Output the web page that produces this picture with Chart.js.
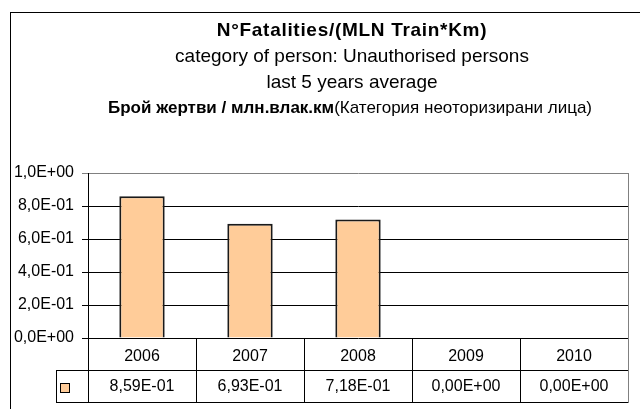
<!DOCTYPE html>
<html><head><meta charset="utf-8">
<script src="https://cdn.jsdelivr.net/npm/chart.js@4/dist/chart.umd.min.js"></script>
<style>html,body{margin:0;padding:0;background:#fff;}#wrap{width:640px;height:409px;position:relative}</style>
</head><body><div id="wrap"><canvas id="c" width="640" height="409"></canvas></div>
<script>
const categories = ['2006', '2007', '2008', '2009', '2010'];
const values = [0.859, 0.693, 0.718, 0, 0];
const yTicks = [0, 0.2, 0.4, 0.6, 0.8, 1.0];
const titleLine1 = 'N°Fatalities/(MLN Train*Km)';
const titleLine2 = 'category of person: Unauthorised persons';
const titleLine3 = 'last 5 years average';
const titleLine4Bold = 'Брой жертви / млн.влак.км';
const titleLine4Normal = '(Категория неоторизирани лица)';

const FONT = '"Liberation Sans", Arial, sans-serif';

function expFmt(v, d) {
  if (Math.abs(v) < 1e-12) return '0,' + '0'.repeat(d) + 'E+00';
  const s = v.toExponential(d);
  const [m, e] = s.split('e');
  const en = parseInt(e, 10);
  const es = (en < 0 ? '-' : '+') + String(Math.abs(en)).padStart(2, '0');
  return m.replace('.', ',') + 'E' + es;
}

const decorPlugin = {
  id: 'decor',
  beforeDraw(chart) {
    const ctx = chart.ctx;
    ctx.save();
    ctx.fillStyle = '#fff';
    ctx.fillRect(0, 0, chart.width, chart.height);
    ctx.strokeStyle = '#000';
    ctx.lineWidth = 1;
    ctx.strokeRect(10.5, 12.5, 700, 500);
    ctx.restore();
  },
  afterDraw(chart) {
    const ctx = chart.ctx;
    const ca = chart.chartArea;
    const xs = chart.scales.x;
    const cx = 352;
    ctx.save();
    // titles
    ctx.fillStyle = '#000';
    ctx.textBaseline = 'alphabetic';
    ctx.textAlign = 'center';
    ctx.font = 'bold 19px ' + FONT;
    if ('letterSpacing' in ctx) ctx.letterSpacing = '0.7px';
    ctx.fillText(titleLine1, cx, 36);
    if ('letterSpacing' in ctx) ctx.letterSpacing = '0px';
    ctx.font = '19px ' + FONT;
    ctx.fillText(titleLine2, cx, 62);
    ctx.fillText(titleLine3, cx, 88);
    ctx.textAlign = 'left';
    ctx.font = 'bold 17px ' + FONT;
    const w1 = ctx.measureText(titleLine4Bold).width;
    ctx.font = '17px ' + FONT;
    const w2 = ctx.measureText(titleLine4Normal).width;
    const sx = 350 - (w1 + w2) / 2;
    ctx.font = 'bold 17px ' + FONT;
    ctx.fillText(titleLine4Bold, sx, 113);
    ctx.font = '17px ' + FONT;
    ctx.fillText(titleLine4Normal, sx + w1, 113);

    // data table
    const n = categories.length;
    const cw = (ca.right - ca.left) / n;
    const r0 = Math.round(ca.bottom);
    const r1 = r0 + 32;
    const r2 = r1 + 32;
    const legLeft = Math.round(ca.left) - 32;
    ctx.lineWidth = 1;
    ctx.strokeStyle = '#000';
    ctx.beginPath();
    for (let i = 0; i < n; i++) {
      const x = Math.round(ca.left + i * cw) + 0.5;
      ctx.moveTo(x, r0);
      ctx.lineTo(x, r2);
    }
    ctx.moveTo(legLeft + 0.5, r1);
    ctx.lineTo(legLeft + 0.5, r2);
    ctx.moveTo(legLeft, r1 + 0.5);
    ctx.lineTo(ca.right, r1 + 0.5);
    ctx.moveTo(legLeft, r2 + 0.5);
    ctx.lineTo(ca.right, r2 + 0.5);
    ctx.stroke();
    // right border (gray)
    ctx.strokeStyle = '#808080';
    ctx.beginPath();
    const rx = Math.round(ca.right) + 0.5;
    ctx.moveTo(rx, ca.top);
    ctx.lineTo(rx, r2 + 1);
    ctx.stroke();
    // values
    ctx.fillStyle = '#000';
    ctx.font = '16px ' + FONT;
    ctx.textAlign = 'center';
    ctx.textBaseline = 'middle';
    values.forEach((v, i) => {
      ctx.fillText(expFmt(v, 2), xs.getPixelForValue(i), (r1 + r2) / 2 + 1);
    });
    // legend key
    const kx = legLeft + 4, ky = r1 + 13;
    ctx.fillStyle = '#FFCC99';
    ctx.fillRect(kx, ky, 9, 9);
    ctx.strokeStyle = '#000';
    ctx.strokeRect(kx + 0.5, ky + 0.5, 9, 9);
    ctx.restore();
  }
};

new Chart(document.getElementById('c'), {
  type: 'bar',
  data: {
    labels: categories,
    datasets: [{
      data: values,
      backgroundColor: '#FFCC99',
      borderColor: '#1a1a1a',
      borderWidth: 2,
      barPercentage: 0.42,
      categoryPercentage: 1
    }]
  },
  options: {
    responsive: false,
    devicePixelRatio: 1,
    animation: false,
    layout: { padding: { top: 173, right: 12, left: 0, bottom: 0 } },
    plugins: { legend: { display: false }, tooltip: { enabled: false }, title: { display: false } },
    scales: {
      x: {
        grid: { display: false, drawTicks: false },
        border: { display: false },
        ticks: { color: '#000', font: { family: FONT, size: 16 }, padding: 9, maxRotation: 0 },
        afterFit(s) { s.height = 71; }
      },
      y: {
        min: 0, max: 1,
        afterBuildTicks(s) { s.ticks = yTicks.map(v => ({ value: v })); },
        grid: {
          color: c => (c.tick && c.tick.value === 1 ? '#808080' : '#000'),
          tickLength: 6,
          drawTicks: true
        },
        border: { display: true, color: '#000' },
        ticks: {
          color: '#000',
          font: { family: FONT, size: 16 },
          padding: 8,
          callback: v => expFmt(v, 1)
        },
        afterFit(s) { s.width = 88; }
      }
    }
  },
  plugins: [decorPlugin]
});
</script>
</body></html>
